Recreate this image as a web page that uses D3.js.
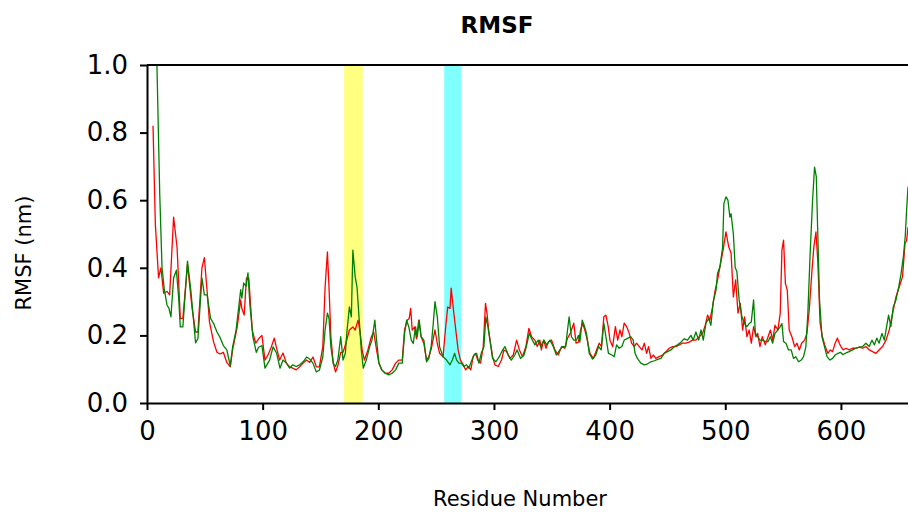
<!DOCTYPE html>
<html>
<head>
<meta charset="utf-8">
<script src="https://cdn.jsdelivr.net/npm/d3@7"></script>
<style>
  body { margin: 0; background: #fff; }
  svg { display: block; }
  .tick text { font-family: "DejaVu Sans", sans-serif; font-size: 26px; fill: #000; }
</style>
</head>
<body>
<div id="chart"></div>
<script>
"use strict";

// residue numbers / RMSF values (nm)
const redResidues = [5.2, 7.2, 10, 12, 14.4, 17.3, 19.6, 23, 26, 28.8, 31, 35, 39, 42, 44, 47.5, 49.6, 52, 54, 57.6,
  60.5, 63, 66, 69, 72, 74, 78, 81, 82, 84, 86, 88, 91, 94, 96.5, 99.4,
  102, 104.6, 107.5, 110, 112, 114.7, 117.6, 120.5, 123.4, 126, 129, 132, 135, 138, 140.7, 143.5, 146.4, 149,
  152, 154, 156, 157.4, 159, 161, 163, 165, 167.5, 169.5, 172, 175, 178, 180, 182.5, 184, 186, 188, 191, 194, 196, 198.5,
  200.5, 203, 206, 209, 212, 215, 217.8, 220.7, 222.7, 225, 226.7, 228, 229.3, 231.4, 233, 235, 237, 239.4, 241.7,
  243.7, 245.8, 247.5, 249, 251, 253, 256, 258, 260, 262, 263, 265, 267, 269, 271, 273.5, 275.5, 277.8, 280, 282,
  284, 286, 288.4, 290.7, 292.7, 294, 295.6, 298.8,
  300.8, 303.7, 306.6, 308.6, 311, 313.8, 316.7, 319.6, 322, 324.7, 327.6, 330.2, 332.5, 335.4, 337.4, 339.7, 341,
  343, 345, 347, 349.8, 352.7, 355.6, 358.5, 361.3, 363.4, 366, 369, 371, 373, 375, 376.6, 378.6, 380.7, 383, 386,
  388.7, 391, 393, 395, 396.8, 398.8,
  400.3, 402.6, 405, 407, 409, 410.6, 412.6, 414.7, 417, 419, 421.3, 423.3, 425.6, 428, 430, 432, 433.7, 435.7,
  437.7, 440, 442.9, 445.8, 448.7, 451.5, 454.4, 457.3, 460.2, 463, 466, 468.8, 471.7, 474.6, 477.5, 480.4, 482.7,
  484.7, 486.7, 489, 491.3, 493.3, 496, 498, 500.6,
  503, 505, 507, 509, 511, 513, 515, 516.7, 518.7, 520.7, 522.5, 524.5, 526.5, 528, 530, 532, 534.6, 537, 539, 541,
  543, 545.5, 547.5, 549, 550.4, 552, 553.6, 555.3, 557.6, 560, 562, 564, 566, 568.6, 570.6, 572.6, 575, 576.6,
  578.4, 580, 582, 584, 586.4, 588.7, 590.8, 592.8, 595, 597, 598.6,
  600, 602, 604.3, 607.2, 610, 613, 616, 618.8, 621.6, 624.5, 627.4, 630.3, 633, 636, 639, 641.8, 644.7, 647.6,
  650.5, 653.3, 655.4, 656.8, 658];
const redValues = [0.82, 0.53, 0.37, 0.40, 0.325, 0.33, 0.32, 0.55, 0.46, 0.25, 0.25, 0.41, 0.28, 0.21, 0.21, 0.40, 0.43, 0.33, 0.24, 0.18,
  0.15, 0.145, 0.15, 0.12, 0.107, 0.157, 0.225, 0.305, 0.28, 0.26, 0.37, 0.37, 0.215, 0.177, 0.19, 0.20,
  0.127, 0.142, 0.166, 0.192, 0.163, 0.127, 0.148, 0.118, 0.107, 0.103, 0.098, 0.107, 0.118, 0.127, 0.12, 0.136, 0.107, 0.107,
  0.166, 0.343, 0.447, 0.34, 0.196, 0.118, 0.092, 0.11, 0.15, 0.15, 0.177, 0.216, 0.225, 0.216, 0.245, 0.216, 0.157, 0.127, 0.157, 0.196, 0.21, 0.157,
  0.118, 0.098, 0.088, 0.088, 0.098, 0.118, 0.127, 0.127, 0.216, 0.245, 0.25, 0.28, 0.216, 0.225, 0.19, 0.245, 0.196, 0.176, 0.127,
  0.137, 0.16, 0.19, 0.216, 0.176, 0.147, 0.137, 0.216, 0.284, 0.28, 0.34, 0.275, 0.216, 0.157, 0.127, 0.113, 0.098, 0.108, 0.098, 0.137,
  0.147, 0.127, 0.118, 0.166, 0.295, 0.265, 0.21, 0.137,
  0.113, 0.108, 0.128, 0.157, 0.152, 0.132, 0.142, 0.186, 0.157, 0.137, 0.167, 0.221, 0.196, 0.186, 0.167, 0.186, 0.157,
  0.186, 0.162, 0.18, 0.186, 0.157, 0.142, 0.167, 0.162, 0.19, 0.206, 0.236, 0.177, 0.18, 0.216, 0.236, 0.216, 0.186, 0.147, 0.132,
  0.157, 0.177, 0.167, 0.255, 0.26, 0.226,
  0.186, 0.167, 0.226, 0.186, 0.216, 0.196, 0.236, 0.226, 0.206, 0.177, 0.167, 0.177, 0.167, 0.157, 0.177, 0.147, 0.167, 0.132,
  0.142, 0.132, 0.137, 0.142, 0.152, 0.162, 0.167, 0.167, 0.172, 0.177, 0.177, 0.18, 0.186, 0.186, 0.196, 0.206, 0.23,
  0.26, 0.245, 0.284, 0.334, 0.364, 0.414, 0.45, 0.506,
  0.462, 0.444, 0.314, 0.364, 0.266, 0.295, 0.216, 0.255, 0.196, 0.216, 0.177, 0.226, 0.196, 0.206, 0.167, 0.196, 0.172, 0.196, 0.216, 0.186,
  0.23, 0.216, 0.265, 0.452, 0.482, 0.353, 0.334, 0.216, 0.196, 0.167, 0.177, 0.157, 0.177, 0.186, 0.206, 0.275, 0.393, 0.462,
  0.506, 0.42, 0.236, 0.196, 0.167, 0.147, 0.157, 0.152, 0.177, 0.192, 0.177,
  0.167, 0.157, 0.162, 0.157, 0.162, 0.162, 0.165, 0.162, 0.167, 0.157, 0.152, 0.147, 0.157, 0.167, 0.186, 0.216, 0.265, 0.314,
  0.344, 0.374, 0.472, 0.48, 0.52];

const greenResidues = [7, 11, 13, 15, 17.3, 19, 20.7, 23, 25.4, 27.4, 28.8, 31, 35, 38, 42, 44, 47.5, 49.6, 52, 55, 57.6,
  60.5, 63, 66, 69, 72, 74, 77, 81, 82, 83.6, 85.6, 87.3, 89, 91.6, 94.5, 96.5, 99.4,
  102, 106, 109, 112, 115, 117.6, 120.5, 123.4, 126, 129, 132, 135, 138, 140.7, 143.5, 146.4, 149, 152, 154, 156,
  157.4, 159, 161, 163, 165, 167.5, 169.5, 171.5, 173, 175, 176.7, 178, 180, 181.6, 183.3, 185.3, 187, 189.6, 192.5,
  194.5, 197, 198.5,
  200.5, 203, 206, 209, 212, 215, 217.8, 220.7, 222.7, 224.5, 226.4, 228.5, 230.2, 232.2, 233.7, 235.4, 237, 239.4,
  241.7, 243.7, 245.8, 247.5, 249, 251, 253, 256, 259, 262, 264, 266, 267.7, 269.7, 271.7, 274, 276.3, 278.3, 280.4,
  282.7, 285, 287, 289, 291.3, 293, 294.8, 296.5, 298.8,
  301.7, 304.6, 307.5, 309.5, 312.3, 315, 318, 320, 323, 326, 328, 330.5, 332.5, 335.4, 338.3, 340.3, 343.2, 345.5,
  348.4, 351.3, 354, 357, 359.3, 362, 363.6, 365, 367, 369, 371.4, 373, 374.3, 376.3, 378, 380, 382.4, 385.3, 388,
  390.5, 392.7, 395, 396.8, 399,
  402, 404, 406, 408.3, 410.6, 412.6, 415.5, 418.4, 420.4, 422, 424, 427, 430, 432.8, 435.7, 438.6, 441.5, 444.4,
  447.2, 450, 453, 456, 458.8, 461.6, 464.5, 467.4, 470.3, 472.3, 474.6, 477, 479, 481, 483.3, 485.6, 487.6, 489.6,
  492, 493.3, 495.4, 497.7,
  498.8, 500.6, 502.3, 504, 505, 507, 508.6, 510, 512, 514.4, 516.7, 518.7, 520.7, 522.5, 524.5, 526, 528, 530, 532,
  534.6, 537, 539, 541, 543, 545.5, 547.5, 549, 550.4, 552.5, 554.7, 557, 559, 561, 563.4, 565.7, 567.7, 569.7, 571.4,
  573.5, 575.5, 577.2, 578.7, 580, 581.5, 583.6, 585.8, 588, 590.5, 592.8, 595, 597.4,
  599.7, 601.5, 604.3, 607.2, 610, 613, 616, 618.8, 621.6, 624.5, 626.8, 629, 631, 633, 635.5, 637.5, 639.5, 641.2,
  643.2, 645.3, 647.6, 650, 652, 654, 655.6, 656.8, 658];
const greenValues = [1.25, 0.62, 0.40, 0.335, 0.29, 0.28, 0.255, 0.37, 0.393, 0.31, 0.225, 0.225, 0.42, 0.33, 0.178, 0.19, 0.37, 0.32, 0.32, 0.25, 0.235,
  0.21, 0.195, 0.17, 0.157, 0.11, 0.165, 0.215, 0.335, 0.31, 0.355, 0.345, 0.385, 0.29, 0.195, 0.15, 0.165, 0.17,
  0.103, 0.127, 0.166, 0.148, 0.103, 0.127, 0.118, 0.103, 0.113, 0.108, 0.113, 0.122, 0.136, 0.13, 0.118, 0.092, 0.097, 0.136, 0.216, 0.266,
  0.25, 0.166, 0.118, 0.108, 0.127, 0.196, 0.127, 0.147, 0.216, 0.284, 0.255, 0.452, 0.373, 0.343, 0.255, 0.157, 0.103, 0.127, 0.166,
  0.186, 0.245, 0.186,
  0.118, 0.098, 0.088, 0.083, 0.088, 0.098, 0.118, 0.118, 0.206, 0.245, 0.225, 0.186, 0.176, 0.225, 0.196, 0.245, 0.196, 0.186,
  0.122, 0.132, 0.17, 0.235, 0.30, 0.255, 0.166, 0.137, 0.127, 0.113, 0.127, 0.147, 0.127, 0.118, 0.118, 0.108, 0.113, 0.103, 0.123,
  0.142, 0.147, 0.118, 0.147, 0.166, 0.255, 0.225, 0.186, 0.132,
  0.122, 0.137, 0.157, 0.167, 0.142, 0.127, 0.142, 0.157, 0.132, 0.142, 0.167, 0.206, 0.191, 0.172, 0.186, 0.167, 0.186, 0.172,
  0.186, 0.167, 0.142, 0.157, 0.167, 0.167, 0.216, 0.255, 0.196, 0.186, 0.186, 0.2, 0.18, 0.245, 0.23, 0.206, 0.147, 0.13, 0.142,
  0.167, 0.157, 0.236, 0.196, 0.147,
  0.142, 0.137, 0.172, 0.162, 0.167, 0.186, 0.191, 0.196, 0.186, 0.147, 0.132, 0.118, 0.113, 0.116, 0.122, 0.125, 0.129, 0.132,
  0.147, 0.152, 0.157, 0.167, 0.172, 0.18, 0.19, 0.186, 0.2, 0.186, 0.21, 0.186, 0.216, 0.186, 0.236, 0.25, 0.23, 0.299,
  0.334, 0.383, 0.403, 0.46,
  0.59, 0.61, 0.60, 0.55, 0.56, 0.50, 0.40, 0.39, 0.305, 0.255, 0.235, 0.226, 0.235, 0.24, 0.305, 0.206, 0.196, 0.186, 0.186,
  0.182, 0.182, 0.196, 0.177, 0.206, 0.216, 0.226, 0.235, 0.182, 0.177, 0.157, 0.157, 0.132, 0.137, 0.122, 0.127, 0.137, 0.167, 0.265,
  0.452, 0.6, 0.698, 0.67, 0.5, 0.305, 0.196, 0.167, 0.137, 0.127, 0.132, 0.142, 0.147,
  0.15, 0.143, 0.148, 0.152, 0.157, 0.162, 0.165, 0.167, 0.177, 0.167, 0.186, 0.172, 0.192, 0.177, 0.206, 0.186, 0.226, 0.26,
  0.226, 0.285, 0.305, 0.344, 0.383, 0.433, 0.492, 0.57, 0.64];

// highlighted residue ranges
const bands = [[170.5, 186.5, "#ffff80"], [257, 271.5, "#80ffff"]];
const xTicks = [0, 100, 200, 300, 400, 500, 600];
const yTicks = [0, 0.2, 0.4, 0.6, 0.8, 1.0];

const width = 908, height = 512;
const margin = {left: 147, right: 0, top: 65, bottom: 109};

const svg = d3.select("#chart").append("svg")
    .attr("width", width)
    .attr("height", height);

const x = d3.scaleLinear().domain([0, 658]).range([margin.left, width - margin.right]);
const y = d3.scaleLinear().domain([0, 1]).range([height - margin.bottom, margin.top]);

svg.append("clipPath").attr("id", "plotclip")
  .append("rect")
    .attr("x", x(0)).attr("y", y(1))
    .attr("width", x(658) - x(0)).attr("height", y(0) - y(1));

// shaded bands
svg.append("g").selectAll("rect")
    .data(bands)
    .enter().append("rect")
    .attr("x", d => x(d[0]))
    .attr("width", d => x(d[1]) - x(d[0]))
    .attr("y", y(1))
    .attr("height", y(0) - y(1))
    .style("fill", d => d[2]);

const series = [
  {xs: redResidues, ys: redValues, color: "#ff0000"},
  {xs: greenResidues, ys: greenValues, color: "#008000"}
];
const line = d3.line().x(d => x(d[0])).y(d => y(d[1]));

svg.append("g").attr("clip-path", "url(#plotclip)")
  .selectAll("path")
    .data(series)
    .enter().append("path")
    .attr("d", s => line(s.xs.map((r, i) => [r, s.ys[i]])))
    .style("fill", "none")
    .style("stroke", s => s.color)
    .style("stroke-width", 1.3)
    .style("stroke-linejoin", "round");

// axes
const xAxis = svg.append("g")
    .attr("transform", "translate(0," + y(0) + ")")
    .call(d3.axisBottom(x).tickValues(xTicks).tickFormat(d3.format("d")).tickSize(7).tickPadding(12).tickSizeOuter(0));
const yAxis = svg.append("g")
    .attr("transform", "translate(" + x(0) + ",0)")
    .call(d3.axisLeft(y).tickValues(yTicks).tickFormat(d3.format(".1f")).tickSize(7).tickPadding(12).tickSizeOuter(0));
[xAxis, yAxis].forEach(a => {
  a.select(".domain").style("stroke", "#000").style("stroke-width", 2);
  a.selectAll(".tick line").style("stroke", "#000").style("stroke-width", 2);
});

// top spine
svg.append("line")
    .attr("x1", x(0)).attr("x2", width)
    .attr("y1", y(1)).attr("y2", y(1))
    .style("stroke", "#000").style("stroke-width", 2);

// titles
svg.append("text")
    .attr("x", 497).attr("y", 33)
    .attr("text-anchor", "middle")
    .style("font-family", "'DejaVu Sans', sans-serif")
    .style("font-weight", "bold")
    .style("font-size", "23px")
    .text("RMSF");

svg.append("text")
    .attr("x", 520).attr("y", 506)
    .attr("text-anchor", "middle")
    .style("font-family", "'DejaVu Sans', sans-serif")
    .style("font-size", "21px")
    .text("Residue Number");

svg.append("text")
    .attr("transform", "translate(31,253) rotate(-90)")
    .attr("text-anchor", "middle")
    .style("font-family", "'DejaVu Sans', sans-serif")
    .style("font-size", "21px")
    .text("RMSF (nm)");
</script>
</body>
</html>
